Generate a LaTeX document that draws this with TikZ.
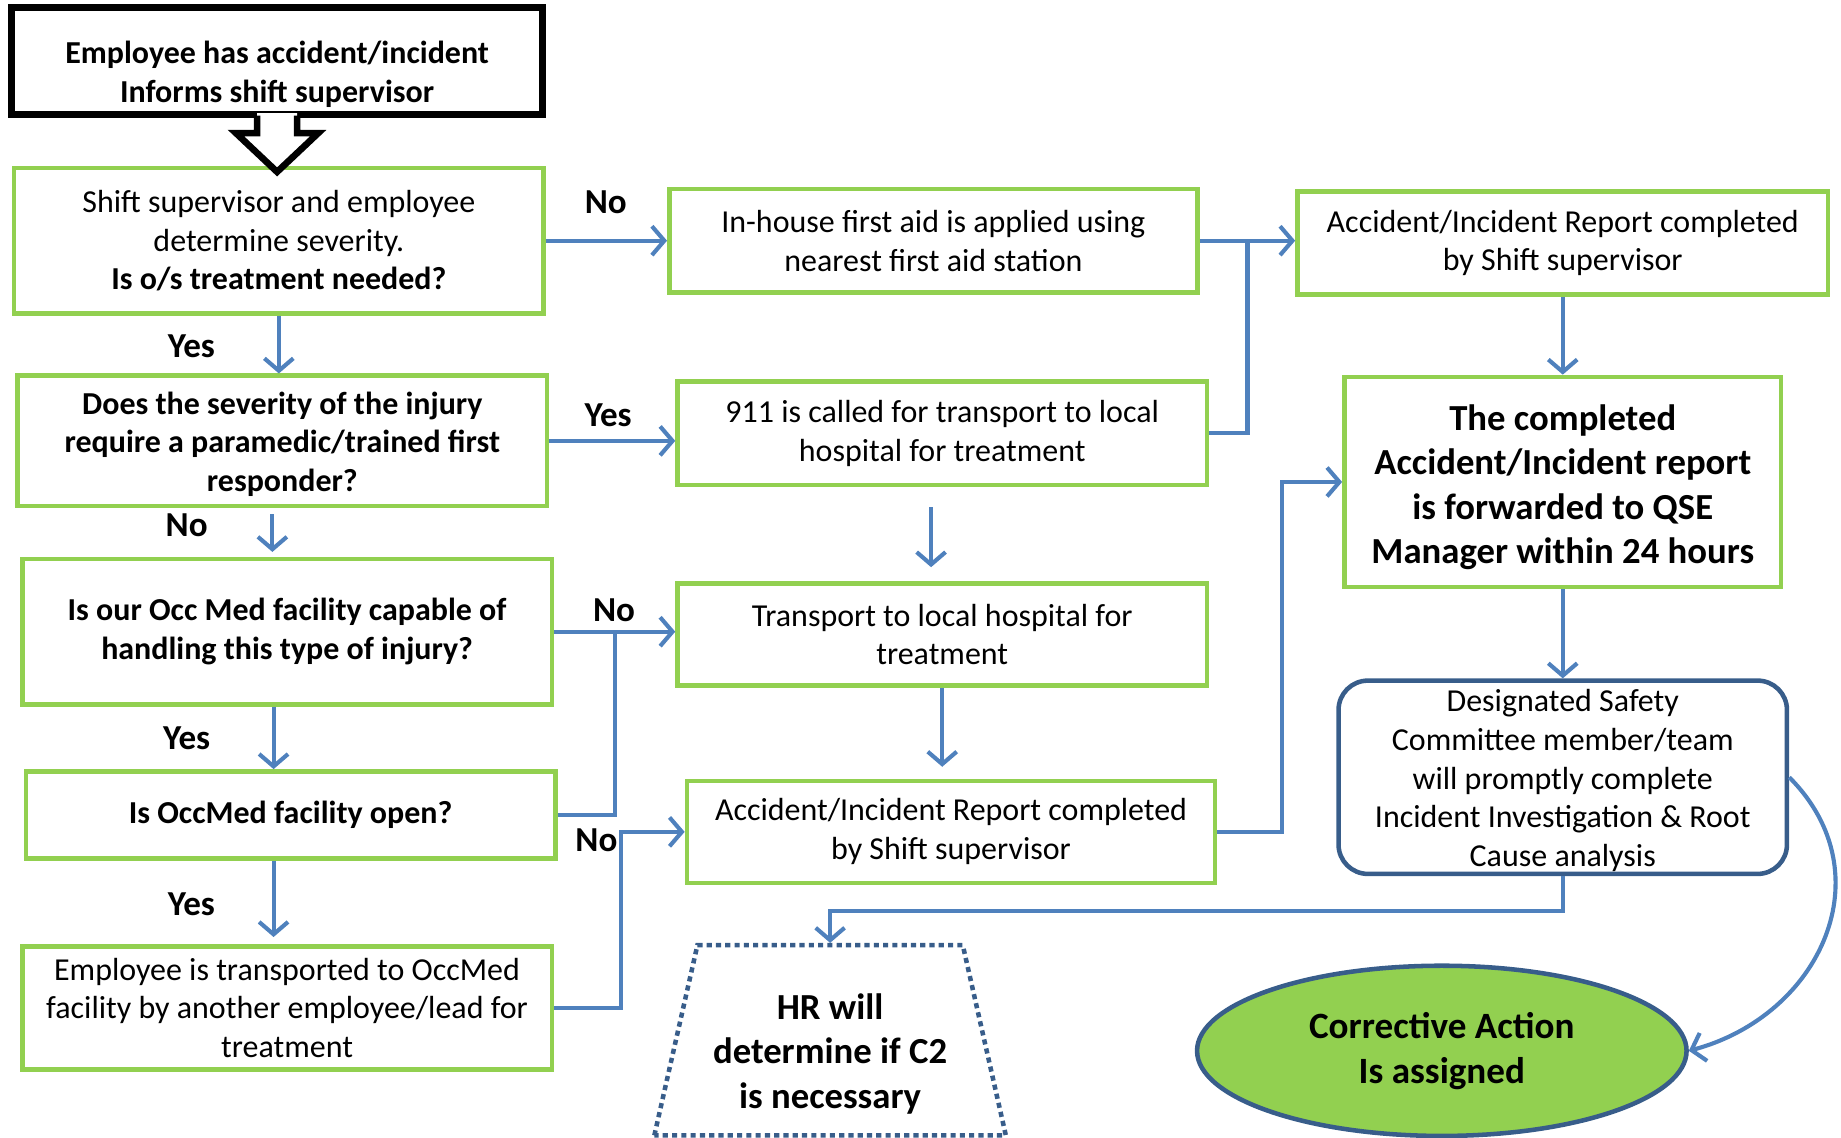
\documentclass[tikz,border=0pt]{standalone}
\usepackage{fontspec}
\setmainfont{Carlito}
\usetikzlibrary{positioning, shapes.geometric, arrows.meta, calc}
\definecolor{boxgreen}{RGB}{146,208,80}
\definecolor{linkblue}{RGB}{79,129,189}
\definecolor{darkblue}{RGB}{56,93,138}

\begin{document}
\begin{tikzpicture}[x=0.02cm, y=-0.02cm,
  box/.style={rectangle, draw=boxgreen, line width=2.2pt, fill=white, minimum width=9.02cm, font=\fontsize{15.5}{18.8}\selectfont},
  qbox/.style={box, font=\fontsize{15.5}{18.8}\selectfont\bfseries},
  lbl/.style={font=\fontsize{17}{20}\selectfont\bfseries},
  arr/.style={-{Straight Barb[length=6pt, width=14pt]}, line width=2pt, linkblue},
  link/.style={line width=2pt, linkblue},
  every node/.style={align=center}
]
  \useasboundingbox (0,0) rectangle (1568,969);

  % Start
  \node[rectangle, draw=black, line width=3.2pt, fill=white, minimum width=9.04cm, minimum height=1.8cm,
        font=\fontsize{15.5}{18.8}\selectfont\bfseries] (start) at (236,52) {\rule{0pt}{24pt}Employee has accident/incident\\Informs shift supervisor};

  % Left column: questions
  \node[box, minimum height=2.48cm] (sev) at (237.5,205) {Shift supervisor and employee\\determine severity.\\\textbf{Is o/s treatment needed?}};
  \node[qbox, minimum height=2.22cm] (paramedic) at (240.5,375.5) {\rule{0pt}{14pt}Does the severity of the injury\\require a paramedic/trained first\\responder?};
  \node[qbox, minimum height=2.48cm] (capable) at (244.5,538) {Is our Occ Med facility capable of\\handling this type of injury?};
  \node[qbox, minimum height=1.48cm] (open) at (247.5,694) {Is OccMed facility open?};
  \node[box, minimum height=2.1cm] (occmed) at (244.5,858.5) {Employee is transported to OccMed\\facility by another employee/lead for\\treatment};

  % Middle column
  \node[box, minimum width=9cm, minimum height=1.76cm] (firstaid) at (795,205) {In-house first aid is applied using\\nearest first aid station};
  \node[box, minimum height=1.76cm] (call911) at (802.5,369) {911 is called for transport to local\\hospital for treatment};
  \node[box, minimum height=1.74cm] (transport) at (802.5,540.5) {Transport to local hospital for\\treatment};
  \node[box, minimum width=9cm, minimum height=1.74cm] (reportB) at (810,708.5) {Accident/Incident Report completed\\by Shift supervisor};
  \node[trapezium, trapezium left angle=76, trapezium right angle=76, trapezium stretches=true,
        draw=darkblue, line width=2.2pt, dash pattern=on 2.5pt off 2pt, minimum width=6cm, minimum height=3.24cm,
        font=\fontsize{17.8}{21.6}\selectfont\bfseries] (hr) at (707,886) {\rule{0pt}{25.5pt}HR will\\determine if C2\\is necessary};

  % Right column
  \node[box, minimum width=9.04cm, minimum height=1.76cm] (reportA) at (1331,207) {Accident/Incident Report completed\\by Shift supervisor};
  \node[box, minimum width=7.44cm, minimum height=3.58cm, font=\fontsize{17.8}{21.6}\selectfont\bfseries] (qse) at (1331,410.5) {\rule{0pt}{17.5pt}The completed\\Accident/Incident report\\is forwarded to QSE\\Manager within 24 hours};
  \node[rectangle, rounded corners=0.5cm, draw=darkblue, line width=2.2pt, fill=white, inner sep=1pt,
        minimum width=7.64cm, minimum height=3.28cm, font=\fontsize{15.5}{18.8}\selectfont] (safety) at (1331,662) {\rule{0pt}{14pt}Designated Safety\\Committee member/team\\will promptly complete\\Incident Investigation \& Root\\Cause analysis};
  \node[ellipse, draw=darkblue, fill=boxgreen, line width=2.2pt, minimum width=8.34cm, minimum height=2.9cm,
        font=\fontsize{18}{22}\selectfont\bfseries] (ca) at (1228,895) {Corrective Action\\Is assigned};

  % Block arrow
  \path (start.south) coordinate (bs);
  \fill[white] (bs) ++(-17,-4) -- ++(0,17) -- ++(-18,0) -- ++(35,33) -- ++(35,-33) -- ++(-18,0) -- ++(0,-17) -- cycle;
  \draw[line width=3.2pt, line join=miter] (bs) ++(-17,-2) -- ++(0,15) -- ++(-18,0) -- ++(35,33) -- ++(35,-33) -- ++(-18,0) -- ++(0,-15);

  % Labels
  \node[lbl] (no1) at (516,172) {No};
  \node[lbl] (yes1) at (163,295) {Yes};
  \node[lbl] (yes2) at (518,354) {Yes};
  \node[lbl] (no2) at (159,447) {No};
  \node[lbl] (no3) at (523,520) {No};
  \node[lbl] (yes3) at (159,629) {Yes};
  \node[lbl] (no4) at (508,716) {No};
  \node[lbl] (yes4) at (163,770) {Yes};

  % Connectors
  \coordinate (j1) at ($(firstaid.east)!0.5!(reportA.west)$);
  \coordinate (j2) at ($(capable.east)!0.5!(transport.west)$);
  \draw[arr] (sev) -- (firstaid);
  \draw[arr] (firstaid.east) -- (firstaid.east -| reportA.west);
  \draw[link] (call911.east) -| (j1);
  \draw[arr] (sev.south) -- (sev.south |- paramedic.north);
  \draw[arr] (paramedic.east) -- (paramedic.east -| call911.west);
  \draw[arr, shorten <=0.34cm, shorten >=0.24cm] ([xshift=-0.19cm]call911.south) -- ([xshift=-0.19cm]call911.south |- transport.north);
  \draw[arr, shorten <=0.1cm, shorten >=0.08cm] ([xshift=-0.17cm]paramedic.south) -- ([xshift=-0.17cm]paramedic.south |- capable.north);
  \draw[arr] (capable.east) -- (capable.east -| transport.west);
  \draw[link] (open.east) -| (j2);
  \draw[arr] ([xshift=-0.23cm]capable.south) -- ([xshift=-0.23cm]capable.south |- open.north);
  \draw[arr, shorten >=0.12cm] ([xshift=-0.29cm]open.south) -- ([xshift=-0.29cm]open.south |- occmed.north);
  \draw[arr, shorten >=0.2cm] (transport.south) -- (transport.south |- reportB.north);
  \draw[arr] (occmed.east) -- ++(57,0) |- (reportB.west);
  \draw[arr] (reportB.east) -- ++(55,0) |- (qse.west);
  \draw[arr] (reportA) -- (qse);
  \draw[arr] (qse) -- (safety);
  \draw[arr] (safety.south) -- ++(0,30) -| (hr.north);
  \draw[arr] (safety.east) to[out=-45, in=15, looseness=1.2] (ca.east);

\end{tikzpicture}
\end{document}
